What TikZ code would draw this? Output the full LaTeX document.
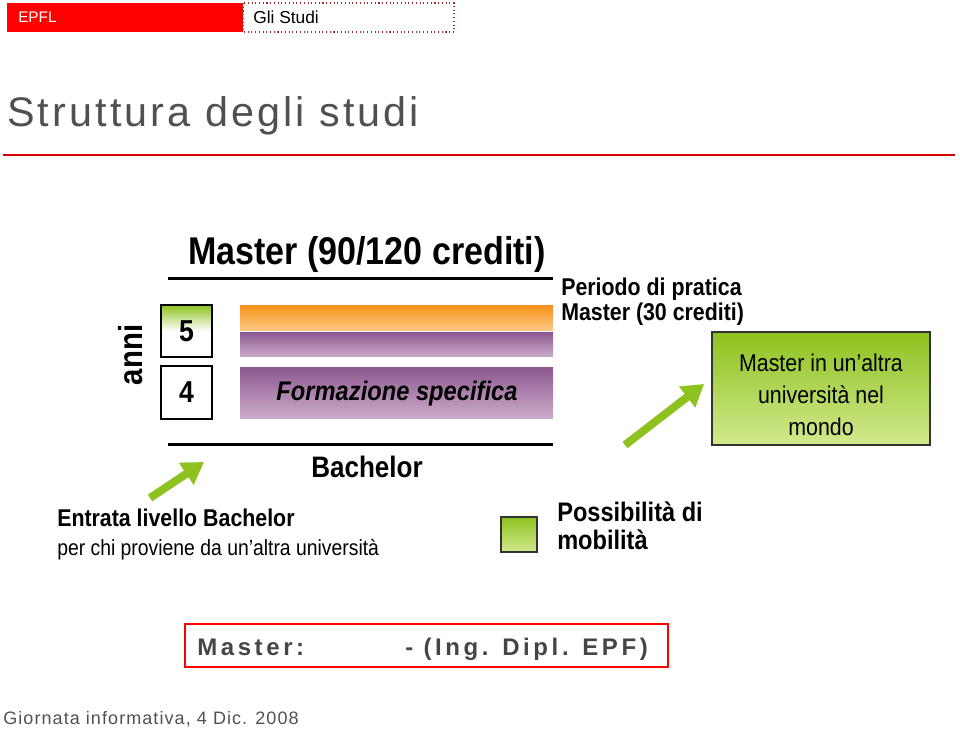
\documentclass[tikz,border=0pt]{standalone}
\usepackage{fontspec}
\setmainfont{Liberation Sans}
\newfontfamily\narrowfont[FakeStretch=0.88]{Liberation Sans}
\usetikzlibrary{arrows.meta}

\definecolor{epflred}{HTML}{FF0000}
\definecolor{darkred}{HTML}{A03030}
\definecolor{titlegray}{HTML}{505050}
\definecolor{boxgray}{HTML}{454545}
\definecolor{lime}{HTML}{8DC21F}
\definecolor{limelight}{HTML}{D2E98E}
\definecolor{orangetop}{HTML}{F7931E}
\definecolor{orangebot}{HTML}{FCCB85}
\definecolor{plumtop}{HTML}{8E5990}
\definecolor{plumbot}{HTML}{CDADCD}

\tikzset{
  fs/.style={font=\fontsize{#1}{#1}\selectfont},
  nfs/.style={font=\narrowfont\fontsize{#1}{#1}\selectfont},
  nbfs/.style={font=\narrowfont\fontsize{#1}{#1}\selectfont\bfseries},
  stage/.style={line width=2.25pt},
  yearbox/.style={draw, line width=1.4pt},
  greenarrow/.style={draw=lime, line width=6pt, -{Triangle[length=16pt,width=19pt]}},
}

\begin{document}
\begin{tikzpicture}[x=0.75pt,y=-0.75pt]
    \useasboundingbox (0,0) rectangle (960,730);

    % testata
    \fill[epflred] (7,3) rectangle (243,32);
    \draw[darkred, dotted, line width=0.8pt] (243,3) rectangle (454,32);
    \node[fs=11.5, white, anchor=west, inner sep=0] (epfl) at (18,17) {EPFL};
    \node[fs=13, anchor=west, inner sep=0] (gli) at (253,17) {Gli Studi};

    \node[font=\fontsize{31}{31}\selectfont\addfontfeature{LetterSpace=7.5}, titlegray, anchor=base west, inner sep=0] (titolo) at (7,127) {Struttura degli studi};
    \draw[epflred!85!black, line width=1.6pt] (3,155) -- (955,155);

    % anni
    \node[nbfs=25, rotate=90, inner sep=0] (anni) at (131,355) {anni};
    \shade[top color=lime, bottom color=white] (161,305) rectangle (212,331);
    \draw[yearbox] (161,305) rectangle (212,357);
    \draw[yearbox] (161,366) rectangle (212,419);
    \node[nbfs=22.7] (y5) at (186.5,331) {5};
    \node[nbfs=22.7] (y4) at (186.5,392.5) {4};

    % master
    \node[nbfs=29, anchor=base west, inner sep=0] (master) at (188,265) {Master (90/120 crediti)};
    \coordinate (mA) at (168,279);
    \coordinate (mB) at (553,279);
    \draw[stage] (mA) -- (mB);

    \shade[top color=orangetop, bottom color=orangebot] (240,306) rectangle (553,331);
    \shade[top color=plumtop, bottom color=plumbot] (240,333) rectangle (553,357);
    \shade[top color=plumtop, bottom color=plumbot] (240,368) rectangle (553,419);
    \node[font=\narrowfont\fontsize{20.2}{20.2}\selectfont\bfseries\itshape] (spec) at (397,394) {Formazione specifica};

    \node[nbfs=18.2, anchor=base west, inner sep=0] (prat1) at (561,296) {Periodo di pratica};
    \node[nbfs=18.2, anchor=base west, inner sep=0] (prat2) at (561,321) {Master (30 crediti)};

    % bachelor
    \coordinate (bA) at (168,445);
    \coordinate (bB) at (553,445);
    \draw[stage] (bA) -- (bB);
    \node[nbfs=22.2] (bach) at (367,467) {Bachelor};

    \node[nbfs=18.2, anchor=base west, inner sep=0] (entr1) at (57,527) {Entrata livello Bachelor};
    \node[nfs=16.5, anchor=base west, inner sep=0] (entr2) at (57,555) {per chi proviene da un’altra università};

    % frecce
    \coordinate (a1) at (150,498);
    \coordinate (a1t) at (204,462);
    \draw[greenarrow] (a1) -- (a1t);
    \coordinate (a2) at (625,445);
    \coordinate (a2t) at (704,384);
    \draw[greenarrow] (a2) -- (a2t);

    % mobilita
    \shade[top color=lime, bottom color=limelight] (712,332) rectangle (930,445);
    \draw[black!80, line width=1.2pt] (712,332) rectangle (930,445);
    \node[font=\narrowfont\fontsize{18.2}{24}\selectfont, align=center] (altra) at (821,395) {Master in un’altra\\università nel\\mondo};

    \shade[top color=lime, bottom color=limelight] (501,517) rectangle (537,552);
    \draw[black!80, line width=1.2pt] (501,517) rectangle (537,552);
    \node[nbfs=20.1, anchor=base west, inner sep=0] (mob1) at (557,522) {Possibilità di};
    \node[nbfs=20.1, anchor=base west, inner sep=0] (mob2) at (557,549) {mobilità};

    % titolo
    \draw[epflred, line width=1pt] (185,624) rectangle (668,667);
    \node[font=\fontsize{18}{18}\selectfont\bfseries\addfontfeature{LetterSpace=15}, boxgray, anchor=base west, inner sep=0] (tit1) at (197,655) {Master:};
    \node[font=\fontsize{18}{18}\selectfont\bfseries\addfontfeature{LetterSpace=15}, boxgray, anchor=base west, inner sep=0] (tit2) at (405,655) {- (Ing. Dipl. EPF)};

    \node[font=\fontsize{13.5}{13.5}\selectfont\addfontfeature{LetterSpace=6}, titlegray, anchor=base west, inner sep=0] (piede) at (3,724) {Giornata informativa, 4 Dic. 2008};
\end{tikzpicture}
\end{document}
